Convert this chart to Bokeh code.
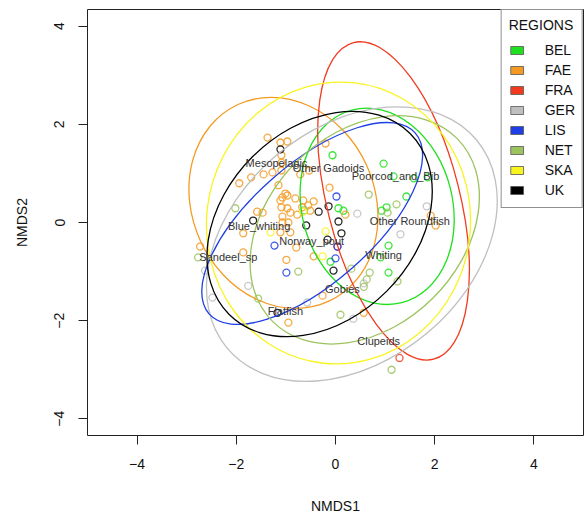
import numpy as np
from bokeh.plotting import figure
from bokeh.models import Range1d, FixedTicker, Legend, LegendItem
from bokeh.core.properties import value
from bokeh.embed import file_html
from bokeh.resources import INLINE

FONT = "Liberation Sans"

# ---------------- data ----------------
regions = ["BEL", "FAE", "FRA", "GER", "LIS", "NET", "SKA", "UK"]
colors = ["#1FE01F", "#F49A22", "#F23B1E", "#BFBFBF", "#1F3FE6", "#9CC35E", "#F8F41E", "#000000"]

# site scores (NMDS1, NMDS2) per region
pts_x = {
    "BEL": [-0.06, 0.97, 1.17, 1.58, 1.86, 1.43, 0.93, 1.03, 0.06, 0.16, 1.07, 0.91, 1.07, -0.10],
    "FAE": [-1.37, -1.11, -0.97, -1.09, -1.09, -1.94, -1.70, -1.45, -1.27, -1.09, -0.71, -0.53,
            -1.15, -1.01, -0.97, -1.07, -0.81, -0.65, -0.44, -0.55, -0.67, -0.51, -1.11, -0.97,
            -0.91, -0.77, -1.09, -1.07, -1.58, -1.47, -1.07, -0.95, -1.86, -1.11, -0.91, -0.20,
            -0.12, 0.20, 1.92, 2.02, -2.73, -1.86, -0.99, -0.79, -0.44, -0.26, -0.95, 0.57],
    "FRA": [1.29, 0.04],
    "GER": [0.44, 1.84, 1.31, -1.76, -2.48, -2.63, -0.57, 0.36, 0.57],
    "LIS": [0.02, -1.23, -0.99, 0.00, 0.04],
    "NET": [0.67, 1.23, 1.05, -0.63, -2.02, -0.75, 0.32, 0.69, 0.63, 0.57, 1.25, 0.10, -1.56, 1.13, -2.77],
    "SKA": [-1.31, -0.20, -0.26, -0.65],
    "UK":  [-1.11, -0.34, -0.14, -0.59, -1.66, -0.16, 0.06, 0.12, -0.04, -1.17],
}
pts_y = {
    "BEL": [1.37, 1.20, 0.94, 0.90, 0.92, 0.53, 0.24, 0.31, 0.29, 0.24, -0.47, -0.71, -1.02, -0.80],
    "FAE": [1.73, 1.63, 1.65, 1.37, 1.22, 0.80, 0.92, 0.98, 1.02, 1.06, 0.98, 1.06,
            0.76, 0.59, 0.55, 0.51, 0.49, 0.45, 0.43, 0.35, 0.31, 0.24, 0.45, 0.29,
            0.20, 0.16, 0.31, 0.12, 0.22, 0.20, 0.00, 0.00, -0.22, -0.20, -0.20, 1.61,
            0.71, 0.16, 0.14, -0.06, -0.49, -0.61, -0.76, -0.51, -0.69, -1.49, -2.04, -1.84],
    "FRA": [-2.76, -0.49],
    "GER": [0.18, 0.33, -0.24, -1.29, -1.53, -0.98, -1.63, -1.96, -1.24],
    "LIS": [0.53, -0.47, -1.02, -0.73, -0.49],
    "NET": [0.57, 0.37, 0.20, 0.25, 0.29, -1.00, -0.94, -1.02, -1.16, -1.31, -1.20, -1.88, -1.55, -3.00, -0.71],
    "SKA": [-0.20, -0.18, -0.69, 0.22],
    "UK":  [1.49, 0.22, 0.33, -0.06, 0.04, -0.35, 0.02, -0.22, -0.98, -1.84],
}

# ellipse centres and shape matrices (var x, var y, cov xy) per region
ell_cx = [0.84, -1.05, 1.17, 0.33, -0.47, 0.59, 0.06, -0.32]
ell_cy = [0.33, 0.40, 0.44, -0.44, -0.02, -0.15, -0.01, -0.03]
ell_sxx = [2.46, 3.69, 2.37, 8.64, 4.97, 5.38, 7.24, 5.20]
ell_syy = [3.92, 4.54, 10.30, 7.73, 4.16, 5.34, 8.07, 5.20]
ell_sxy = [-0.40, -0.50, -2.14, 2.50, 3.05, 1.50, 0.10, 1.45]

# species scores
species = ["Mesopelagic", "Other Gadoids", "Poorcod_and_Bib", "Other Roundfish", "Blue_whiting",
           "Norway_pout", "Sandeel_sp", "Whiting", "Gobies", "Flatfish", "Clupeids"]
sp_x = [-1.19, -0.14, 1.21, 1.50, -1.54, -0.48, -2.16, 0.97, 0.14, -1.01, 0.87]
sp_y = [1.22, 1.12, 0.94, 0.04, -0.08, -0.37, -0.71, -0.67, -1.35, -1.80, -2.41]

x_ticks = [-4, -2, 0, 2, 4]
y_ticks = [-4, -2, 0, 2, 4]

# ---------------- figure ----------------
p = figure(width=588, height=518, x_range=Range1d(-5.0, 5.0), y_range=Range1d(-4.34, 4.34),
           output_backend="svg", toolbar_location=None,
           min_border_left=87, min_border_right=5, min_border_top=9, min_border_bottom=83)
p.grid.visible = False
p.outline_line_color = "#222222"
p.outline_line_width = 1
p.background_fill_color = "white"
p.border_fill_color = "white"

for ax, lab, ticks in ((p.xaxis[0], "NMDS1", x_ticks), (p.yaxis[0], "NMDS2", y_ticks)):
    ax.ticker = FixedTicker(ticks=ticks)
    ax.minor_tick_line_color = None
    ax.major_tick_in = 0
    ax.major_tick_out = 9
    ax.major_tick_line_color = "#222222"
    ax.axis_line_color = None
    ax.major_label_text_font = FONT
    ax.major_label_text_font_size = "14px"
    ax.major_label_text_color = "#111111"
    ax.axis_label = lab
    ax.axis_label_text_font = FONT
    ax.axis_label_text_font_size = "14px"
    ax.axis_label_text_font_style = "normal"
    ax.axis_label_text_color = "#111111"

p.xaxis.major_label_standoff = 14
p.xaxis.axis_label_standoff = 26
p.yaxis.major_label_orientation = "vertical"
p.yaxis.major_label_standoff = 14
p.yaxis.axis_label_standoff = 22

# points
for r, c in zip(regions, colors):
    p.scatter(pts_x[r], pts_y[r], marker="circle", size=7, fill_color=None,
              line_color=c, line_width=1.3, line_alpha=0.85)

# ellipses
widths, heights, angles = [], [], []
for sxx, syy, sxy in zip(ell_sxx, ell_syy, ell_sxy):
    vals, vecs = np.linalg.eigh(np.array([[sxx, sxy], [sxy, syy]]))
    widths.append(2 * np.sqrt(vals[1]))
    heights.append(2 * np.sqrt(vals[0]))
    angles.append(float(np.arctan2(vecs[1, 1], vecs[0, 1])))
p.ellipse(x=ell_cx, y=ell_cy, width=widths, height=heights, angle=angles,
          fill_color=None, line_color=colors, line_width=1.3)

# species labels
p.text(x=sp_x, y=sp_y, text=species, text_font=value(FONT), text_font_size="11px",
       text_align="center", text_baseline="middle", text_color="#333333")

# legend (swatch renderers carry no visible data)
items = []
for r, c in zip(regions, colors):
    rr = p.quad(left=[np.nan], right=[np.nan], top=[np.nan], bottom=[np.nan],
                fill_color=c, line_color="#555555", line_width=0.8)
    items.append(LegendItem(label=r, renderers=[rr]))
legend = Legend(items=items, location="top_right", title="REGIONS", margin=0, padding=7,
                spacing=0, glyph_width=16, glyph_height=10, label_height=20, label_standoff=20,
                border_line_color="#222222", border_line_width=1, background_fill_alpha=1.0,
                label_text_font=FONT, label_text_font_size="14px", label_text_color="#111111",
                title_text_font=FONT, title_text_font_size="14px", title_text_font_style="normal",
                title_text_color="#111111", title_standoff=7)
p.add_layout(legend)

open("out.html", "w").write(file_html(p, INLINE))
